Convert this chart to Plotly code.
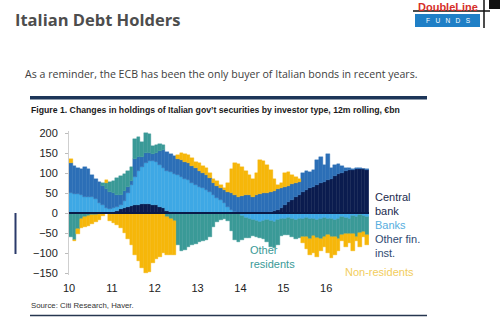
import plotly.graph_objects as go

# ---- data (monthly, Jan 2010 .. Dec 2016), EUR bn, 12m rolling change ----
months = list(range(84))
central_bank = [1,1,1,1,1,1,1,1,1,1,1,1,
                3,6,9,12,15,18,20,21,22,22,22,21,
                19,16,12,6,3,2,1,1,1,1,1,1,
                1,1,1,1,1,1,1,1,1,1,1,1,
                1,1,1,1,1,1,1,1,2,4,7,12,
                20,27,33,40,46,52,57,62,66,70,74,78,
                82,86,92,97,101,105,107,108,109,110,110,108]
banks = [48,47,46,44,40,40,38,35,25,20,12,8,
         9,9,11,18,35,52,70,84,93,103,108,109,
         109,104,100,99,99,96,93,89,84,81,75,69,
         65,61,57,51,44,37,31,23,14,7,2,-2,
         -8,-12,-15,-18,-20,-22,-20,-18,-20,-22,-18,-15,
         -15,-12,-15,-18,-15,-15,-12,-15,-15,-18,-15,-12,
         -15,-15,-18,-15,-10,-12,-15,-8,-10,-5,-8,-10]
other_fin = [76,70,65,65,74,69,56,49,52,47,47,43,
             38,30,25,25,15,10,45,35,25,25,20,18,
             22,35,45,47,45,45,42,42,43,43,42,42,
             39,38,37,35,30,30,30,34,37,42,42,39,
             41,44,44,39,44,47,49,49,50,51,53,50,
             45,41,39,35,32,48,48,40,41,62,66,42,
             66,26,28,25,17,7,6,2,3,2,0,2]
other_res = [-60,-68,-40,-15,-10,-8,-5,-5,-3,8,15,25,
             30,42,47,42,40,35,50,50,37,49,48,20,
             20,17,13,-10,-15,-20,-80,-95,-92,-85,-80,-78,
             -72,-70,-68,-60,-35,-22,-18,-15,-20,-45,-68,-70,
             -60,-50,-47,-40,-40,-40,-45,-54,-65,-65,-62,-42,
             -40,-43,-45,-47,-47,-45,-48,-50,-42,-45,-50,-48,
             -40,-45,-42,-50,-45,-40,-38,-45,-50,-45,-40,-45]
non_res = [10,-2,-12,-22,-25,-25,-22,-18,-15,-8,7,-20,
           -25,-30,-37,-50,-65,-80,-105,-120,-137,-150,-148,-125,
           -115,-110,-100,-95,-90,-85,8,18,20,20,19,16,
           20,18,17,13,10,12,8,4,23,60,80,82,
           73,60,50,45,55,84,80,70,56,30,10,13,
           35,34,23,15,7,-15,-30,-40,-43,-47,-30,-25,
           -45,-52,-45,-30,-15,-33,-22,-42,-10,-35,-12,-25]
year_ticks = [2010, 2011, 2012, 2013, 2014, 2015, 2016]
tick_labels = ["10", "11", "12", "13", "14", "15", "16"]
y_ticks = [-150, -100, -50, 0, 50, 100, 150, 200]

x = [2010 + (m + 0.5) / 12 for m in months]

NAVY = "#0b1c4f"
LIGHT = "#3ea8e5"
MID = "#2c6fb7"
TEAL = "#3a9a97"
YELLOW = "#f6b70a"

series = [("Central bank", central_bank, NAVY),
          ("Banks", banks, LIGHT),
          ("Other fin. inst.", other_fin, MID),
          ("Other residents", other_res, TEAL),
          ("Non-residents", non_res, YELLOW)]

fig = go.Figure()
for name, vals, col in series:
    fig.add_trace(go.Bar(x=x, y=vals, name=name,
                         marker=dict(color=col, line=dict(color=col, width=0.4))))

# plot area in pixels
L, R, T, B = 69, 369, 131, 275
def ax(px):
    return (px - L) / (R - L)
def ay(py):
    return (B - py) / (B - T)

fig.update_layout(
    width=500, height=333,
    margin=dict(l=L, r=500 - R, t=T, b=333 - B, pad=0),
    barmode="relative", bargap=0,
    showlegend=False,
    plot_bgcolor="white", paper_bgcolor="white",
    font=dict(family="Liberation Sans, Arial, sans-serif", size=11, color="#222"),
    xaxis=dict(range=[2010, 2017], tickvals=year_ticks, ticktext=tick_labels,
               showgrid=False, zeroline=False, showline=False, ticks="",
               tickfont=dict(size=11, color="#222"), ticklabelstandoff=5),
    yaxis=dict(range=[-155, 205], tickvals=y_ticks, showgrid=False, zeroline=False,
               showline=True, linecolor="#cfcfcf", linewidth=1,
               ticks="outside", ticklen=3, tickcolor="#bdbdbd",
               tickfont=dict(size=11, color="#222"), ticklabelstandoff=5),
)

shapes = []
# zero line
shapes.append(dict(type="line", xref="x", yref="y", x0=2010, x1=2017, y0=0, y1=0,
                   line=dict(color="#0a1a48", width=2)))
# figure frame lines
shapes.append(dict(type="rect", xref="paper", yref="paper", x0=ax(30), x1=ax(427),
                   y0=ay(99.5), y1=ay(96), fillcolor="#1d3659", line=dict(width=0)))
shapes.append(dict(type="line", xref="paper", yref="paper", x0=ax(30), x1=ax(427),
                   y0=ay(315.5), y1=ay(315.5), line=dict(color="#26364f", width=1.5)))
# left slide marker
shapes.append(dict(type="line", xref="paper", yref="paper", x0=ax(15.5), x1=ax(15.5),
                   y0=ay(213), y1=ay(254), line=dict(color="#2b3a6a", width=2)))
# logo
shapes.append(dict(type="rect", xref="paper", yref="paper", x0=ax(415), x1=ax(480),
                   y0=ay(27), y1=ay(14), fillcolor="#1f7fc6", line=dict(width=0)))
shapes.append(dict(type="line", xref="paper", yref="paper", x0=ax(413), x1=ax(490),
                   y0=ay(11), y1=ay(11), line=dict(color="#111", width=1.5)))
shapes.append(dict(type="line", xref="paper", yref="paper", x0=ax(484), x1=ax(484),
                   y0=ay(0), y1=ay(28), line=dict(color="#111", width=1.5)))
shapes.append(dict(type="rect", xref="paper", yref="paper", x0=ax(489), x1=ax(500),
                   y0=ay(9), y1=ay(0), fillcolor="#111", line=dict(width=0)))
fig.update_layout(shapes=shapes)

def ann(text, px, py, size, color, family="Liberation Sans, Arial, sans-serif",
        xanchor="left", yanchor="middle", align="left"):
    fig.add_annotation(text=text, xref="paper", yref="paper", x=ax(px), y=ay(py),
                       xanchor=xanchor, yanchor=yanchor, align=align, showarrow=False,
                       font=dict(family=family, size=size, color=color))

ann("<b>Italian Debt Holders</b>", 13, 19, 16.5, "#4d4d4d", family="Open Sans, sans-serif")
ann("As a reminder, the ECB has been the only buyer of Italian bonds in recent years.",
    23, 74, 10.6, "#404040", family="Open Sans, sans-serif")
ann("<b>Figure 1. Changes in holdings of Italian gov\u2019t securities by investor type, 12m rolling, \u20acbn</b>",
    29, 110, 8.7, "#1a1a1a", family="Liberation Sans Narrow, Arial Narrow, sans-serif")
ann("Source: Citi Research, Haver.", 29, 305, 7.8, "#333",
    family="Liberation Sans Narrow, Arial Narrow, sans-serif")
ann("Central<br>bank", 373, 204, 11, "#1b2a4e")
ann("Banks", 373, 225, 11, "#56aee0")
ann("Other fin.<br>inst.", 373, 246, 11, "#2f4a72")
ann("Other<br>residents", 248, 257, 11, "#3a9a97")
ann("Non-residents", 343, 272, 11, "#f2cd5c")
ann("<b>DoubleLine</b>", 448, -1, 11, "#d6302a", family="Arial, sans-serif",
    xanchor="center", yanchor="top")
ann("F   U   N   D   S", 448, 20.5, 6.5, "white", family="Arial, sans-serif",
    xanchor="center")

fig.write_html("out.html")
